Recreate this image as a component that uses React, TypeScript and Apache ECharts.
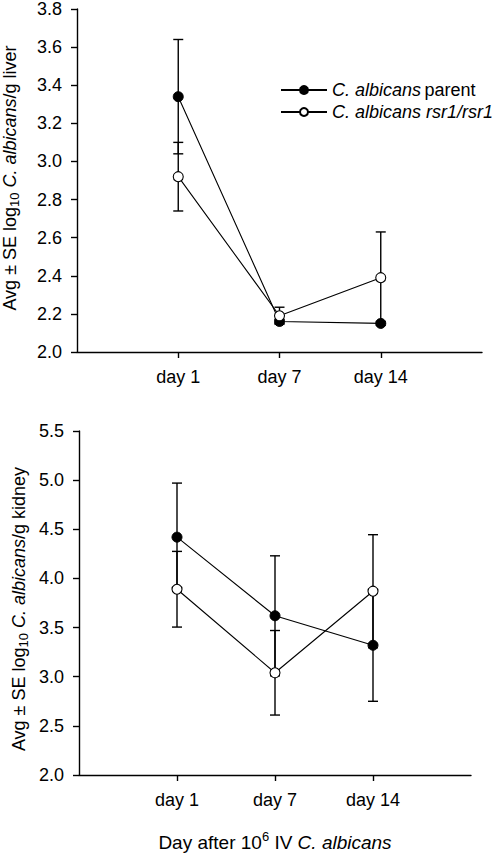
import React, { useEffect, useRef } from "react";
import * as echarts from "echarts";

const categories = ["day 1", "day 7", "day 14"];
const catPositions = [1, 2, 3];

const liverParent = [3.34, 2.16, 2.15];
const liverParentSE = [0.3, 0.01, 0.01];
const liverMutant = [2.92, 2.19, 2.39];
const liverMutantSE = [0.18, 0.045, 0.24];

const kidneyParent = [4.42, 3.62, 3.32];
const kidneyParentSE = [0.55, 0.61, 0.57];
const kidneyMutant = [3.89, 3.04, 3.87];
const kidneyMutantSE = [0.385, 0.43, 0.575];

const liverAxis = { min: 2.0, max: 3.8, interval: 0.2 };
const kidneyAxis = { min: 2.0, max: 5.5, interval: 0.5 };

const parentName = "C. albicans parent";
const mutantName = "C. albicans rsr1/rsr1";
const liverTitle = "{n|Avg ± SE log}{sub|10}{n| }{i|C. albicans}{n|/g liver}";
const kidneyTitle = "{n|Avg ± SE log}{sub|10}{n| }{i|C. albicans}{n|/g kidney}";
const xTitle = "{n|Day after 10}{sup|6}{n| IV }{i|C. albicans}";

const FONT = "'Liberation Sans', Arial, Helvetica, sans-serif";

function rich(size: number, lh: number) {
  return {
    n: { fontSize: size, fontFamily: FONT, color: "#000", lineHeight: lh, verticalAlign: "middle" },
    i: { fontSize: size, fontFamily: FONT, fontStyle: "italic", color: "#000", lineHeight: lh, verticalAlign: "middle" },
    sub: { fontSize: 13, fontFamily: FONT, color: "#000", lineHeight: 14, verticalAlign: "bottom" },
    sup: { fontSize: 13, fontFamily: FONT, color: "#000", lineHeight: 14, verticalAlign: "top" },
  };
}

function points(vals: number[]) {
  return vals.map((v, i) => [catPositions[i], v]);
}
function bars(vals: number[], se: number[]) {
  return vals.map((v, i) => [catPositions[i], v - se[i], v + se[i]]);
}

function errorSeries(data: number[][], idx: number) {
  return {
    type: "custom",
    xAxisIndex: idx,
    yAxisIndex: idx,
    z: 1,
    silent: true,
    data,
    encode: { x: 0, y: [1, 2] },
    renderItem: (params: any, api: any) => {
      const x = api.value(0);
      const lo = api.coord([x, api.value(1)]);
      const hi = api.coord([x, api.value(2)]);
      const hw = 5;
      const st = { stroke: "#000", lineWidth: 1.4 };
      return {
        type: "group",
        children: [
          { type: "line", shape: { x1: lo[0], y1: lo[1], x2: hi[0], y2: hi[1] }, style: st },
          { type: "line", shape: { x1: lo[0] - hw, y1: lo[1], x2: lo[0] + hw, y2: lo[1] }, style: st },
          { type: "line", shape: { x1: hi[0] - hw, y1: hi[1], x2: hi[0] + hw, y2: hi[1] }, style: st },
        ],
      };
    },
  };
}

function lineSeries(name: string, data: number[][], idx: number, filled: boolean) {
  return {
    type: "line",
    name,
    xAxisIndex: idx,
    yAxisIndex: idx,
    z: filled ? 3 : 4,
    data,
    symbol: "circle",
    symbolSize: 10,
    lineStyle: { color: "#000", width: 1.1 },
    itemStyle: filled
      ? { color: "#000", borderColor: "#000", borderWidth: 1 }
      : { color: "#fff", borderColor: "#000", borderWidth: 1.1 },
  };
}

function xAxisDef(idx: number, name?: string) {
  return {
    type: "value",
    gridIndex: idx,
    min: 0,
    max: 4,
    interval: 1,
    splitLine: { show: false },
    axisLine: { show: true, lineStyle: { color: "#000", width: 1.4 } },
    axisTick: { show: true, length: 6, lineStyle: { color: "#000", width: 1.4 }, customValues: catPositions },
    axisLabel: {
      customValues: catPositions,
      formatter: (v: number) => categories[catPositions.indexOf(v)] ?? "",
      fontSize: 18,
      fontFamily: FONT,
      color: "#000",
      margin: 16,
    },
    name: name ?? "",
    nameLocation: "middle",
    nameGap: 55,
    nameTextStyle: { rich: rich(19, 24) },
  };
}

function yAxisDef(idx: number, ax: { min: number; max: number; interval: number }) {
  return {
    type: "value",
    gridIndex: idx,
    min: ax.min,
    max: ax.max,
    interval: ax.interval,
    splitLine: { show: false },
    axisLine: { show: true, lineStyle: { color: "#000", width: 1.4 } },
    axisTick: { show: true, length: 6, lineStyle: { color: "#000", width: 1.4 } },
    axisLabel: {
      formatter: (v: number) => v.toFixed(1),
      fontSize: 18,
      fontFamily: FONT,
      color: "#000",
      margin: 15,
    },
  };
}

function yTitle(text: string, x: number, y: number) {
  return {
    type: "text",
    x,
    y,
    rotation: Math.PI / 2,
    silent: true,
    style: { text, rich: rich(18, 22), align: "center", verticalAlign: "middle" },
  };
}

export default function App() {
  const ref = useRef<HTMLDivElement>(null);
  useEffect(() => {
    document.body.style.margin = "0";
    if (!ref.current) return;
    const chart = echarts.init(ref.current, null, { renderer: "svg" });
    chart.setOption({
      animation: false,
      backgroundColor: "#fff",
      grid: [
        { left: 77, top: 7, width: 405, height: 345 },
        { left: 79, top: 431, width: 392, height: 344 },
      ],
      legend: {
        show: true,
        orient: "vertical",
        left: 275,
        top: 76,
        itemWidth: 46,
        itemHeight: 10,
        itemGap: 4,
        selectedMode: false,
        data: [parentName, mutantName],
        formatter: (n: string) => (n === parentName ? "{i|C. albicans} {n|parent}" : "{i|C. albicans rsr1/rsr1}"),
        textStyle: { rich: rich(18, 20) },
      },
      graphic: [yTitle(liverTitle, 10, 178), yTitle(kidneyTitle, 19, 609)],
      xAxis: [xAxisDef(0), xAxisDef(1, xTitle)],
      yAxis: [yAxisDef(0, liverAxis), yAxisDef(1, kidneyAxis)],
      series: [
        errorSeries(bars(liverParent, liverParentSE), 0),
        errorSeries(bars(liverMutant, liverMutantSE), 0),
        lineSeries(parentName, points(liverParent), 0, true),
        lineSeries(mutantName, points(liverMutant), 0, false),
        errorSeries(bars(kidneyParent, kidneyParentSE), 1),
        errorSeries(bars(kidneyMutant, kidneyMutantSE), 1),
        lineSeries(parentName, points(kidneyParent), 1, true),
        lineSeries(mutantName, points(kidneyMutant), 1, false),
      ],
    });
    return () => chart.dispose();
  }, []);
  return <div ref={ref} style={{ width: 500, height: 853 }} />;
}
